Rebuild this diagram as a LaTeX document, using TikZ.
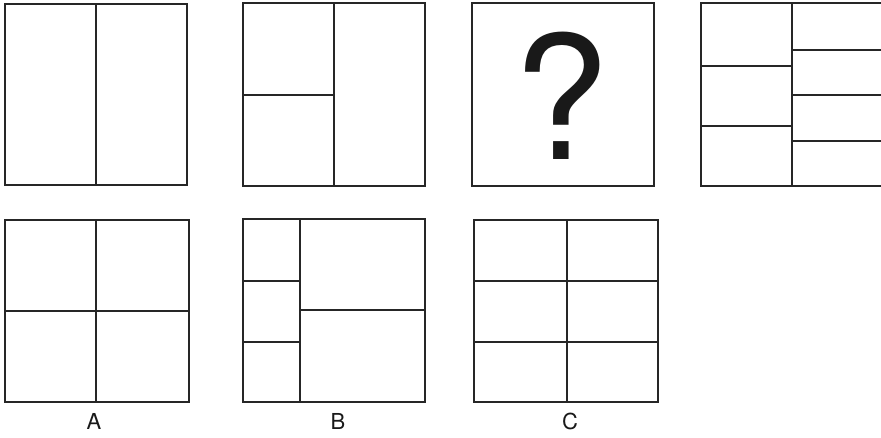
\documentclass[tikz,border=0pt]{standalone}
\usepackage{fontspec}
\setmainfont{TeX Gyre Heros}
\begin{document}
\begin{tikzpicture}[x=1pt,y=-1pt,
  frame/.style={draw=black!85,line width=1.5pt},
  grid/.style={draw=black!85,line width=1.4pt},
  lbl/.style={inner sep=0pt,font=\fontsize{22}{26}\selectfont,text=black!90}]
\useasboundingbox (0,0) rectangle (881,437);
\clip (0,0) rectangle (881,437);
% top row
\draw[frame] (5,4) rectangle (187,185);
\draw[grid] (96,4) -- (96,185);
\draw[frame] (243,3) rectangle (425,186);
\draw[grid] (334,3) -- (334,186);
\draw[grid] (243,95) -- (334,95);
\draw[frame] (472,3) rectangle (654,186);
\node[inner sep=0pt,font=\fontsize{172}{180}\selectfont,text=black!90] (q) at (561,96) {?};
\draw[frame] (701,3) rectangle (884,186);
\draw[grid] (792,3) -- (792,186);
\draw[grid] (701,66) -- (792,66);
\draw[grid] (701,126) -- (792,126);
\draw[grid] (792,50) -- (884,50);
\draw[grid] (792,95) -- (884,95);
\draw[grid] (792,141) -- (884,141);
% bottom row
\draw[frame] (5,220) rectangle (189,402);
\draw[grid] (96,220) -- (96,402);
\draw[grid] (5,311) -- (189,311);
\draw[frame] (243,219) rectangle (425,402);
\draw[grid] (300,219) -- (300,402);
\draw[grid] (243,281) -- (300,281);
\draw[grid] (243,342) -- (300,342);
\draw[grid] (300,310) -- (425,310);
\draw[frame] (474,220) rectangle (658,402);
\draw[grid] (567,220) -- (567,402);
\draw[grid] (474,281) -- (658,281);
\draw[grid] (474,342) -- (658,342);
\node[lbl] (la) at (94,421) {A};
\node[lbl] (lb) at (338,421) {B};
\node[lbl] (lc) at (570,421) {C};
\end{tikzpicture}
\end{document}
